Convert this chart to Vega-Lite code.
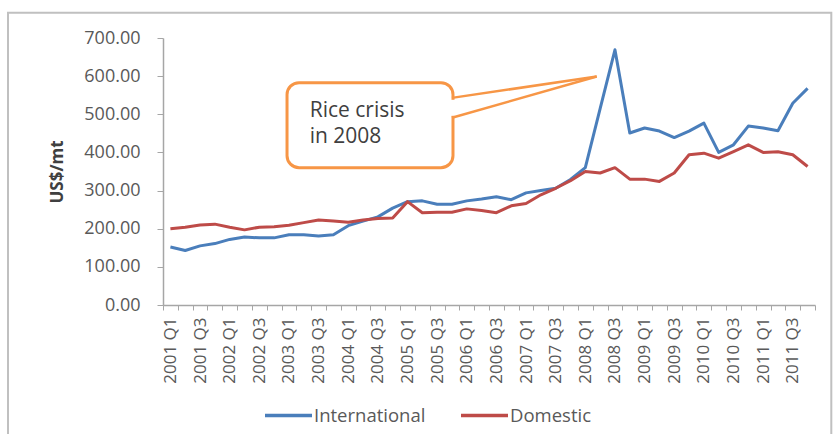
{
  "$schema": "https://vega.github.io/schema/vega-lite/v6.json",
  "width": 652,
  "height": 267,
  "autosize": {"type": "none"},
  "padding": {"left": 163, "top": 38, "right": 19, "bottom": 129},
  "background": "white",
  "config": {
    "view": {"stroke": null},
    "font": "Open Sans",
    "legend": {"padding": 0}
  },
  "datasets": {
    "prices": [
      {"quarter": "2001 Q1", "International": 152, "Domestic": 200},
      {"quarter": "2001 Q2", "International": 143, "Domestic": 204},
      {"quarter": "2001 Q3", "International": 155, "Domestic": 210},
      {"quarter": "2001 Q4", "International": 161, "Domestic": 212},
      {"quarter": "2002 Q1", "International": 172, "Domestic": 204},
      {"quarter": "2002 Q2", "International": 178, "Domestic": 197},
      {"quarter": "2002 Q3", "International": 176, "Domestic": 204},
      {"quarter": "2002 Q4", "International": 176, "Domestic": 205},
      {"quarter": "2003 Q1", "International": 184, "Domestic": 209},
      {"quarter": "2003 Q2", "International": 184, "Domestic": 216},
      {"quarter": "2003 Q3", "International": 181, "Domestic": 223},
      {"quarter": "2003 Q4", "International": 184, "Domestic": 220},
      {"quarter": "2004 Q1", "International": 208, "Domestic": 217},
      {"quarter": "2004 Q2", "International": 220, "Domestic": 223},
      {"quarter": "2004 Q3", "International": 231, "Domestic": 227},
      {"quarter": "2004 Q4", "International": 254, "Domestic": 228},
      {"quarter": "2005 Q1", "International": 271, "Domestic": 271},
      {"quarter": "2005 Q2", "International": 273, "Domestic": 242},
      {"quarter": "2005 Q3", "International": 264, "Domestic": 243},
      {"quarter": "2005 Q4", "International": 264, "Domestic": 243},
      {"quarter": "2006 Q1", "International": 273, "Domestic": 252},
      {"quarter": "2006 Q2", "International": 278, "Domestic": 248},
      {"quarter": "2006 Q3", "International": 284, "Domestic": 242},
      {"quarter": "2006 Q4", "International": 276, "Domestic": 260},
      {"quarter": "2007 Q1", "International": 294, "Domestic": 266},
      {"quarter": "2007 Q2", "International": 300, "Domestic": 289},
      {"quarter": "2007 Q3", "International": 306, "Domestic": 306},
      {"quarter": "2007 Q4", "International": 329, "Domestic": 326},
      {"quarter": "2008 Q1", "International": 360, "Domestic": 350},
      {"quarter": "2008 Q2", "International": 515, "Domestic": 346},
      {"quarter": "2008 Q3", "International": 669, "Domestic": 360},
      {"quarter": "2008 Q4", "International": 451, "Domestic": 330},
      {"quarter": "2009 Q1", "International": 464, "Domestic": 330},
      {"quarter": "2009 Q2", "International": 456, "Domestic": 324},
      {"quarter": "2009 Q3", "International": 439, "Domestic": 346},
      {"quarter": "2009 Q4", "International": 456, "Domestic": 394},
      {"quarter": "2010 Q1", "International": 477, "Domestic": 398},
      {"quarter": "2010 Q2", "International": 400, "Domestic": 385},
      {"quarter": "2010 Q3", "International": 420, "Domestic": 402},
      {"quarter": "2010 Q4", "International": 469, "Domestic": 420},
      {"quarter": "2011 Q1", "International": 464, "Domestic": 400},
      {"quarter": "2011 Q2", "International": 457, "Domestic": 402},
      {"quarter": "2011 Q3", "International": 529, "Domestic": 394},
      {"quarter": "2011 Q4", "International": 568, "Domestic": 363}
    ]
  },
  "layer": [
    {
      "data": {"name": "prices"},
      "transform": [{"fold": ["International", "Domestic"], "as": ["series", "price"]}],
      "mark": {"type": "line", "strokeWidth": 3, "strokeJoin": "round"},
      "encoding": {
        "x": {
          "field": "quarter",
          "type": "ordinal",
          "bandPosition": 0.5,
          "scale": {"type": "band", "paddingInner": 0, "paddingOuter": 0},
          "axis": {
            "title": null,
            "labelAngle": -90,
            "labelExpr": "indexof(datum.label, 'Q1') > 0 || indexof(datum.label, 'Q3') > 0 ? datum.label : ''",
            "labelOverlap": false,
            "tickBand": "extent",
            "tickSize": 5,
            "tickColor": "#A6A6A6",
            "domainColor": "#A6A6A6",
            "domainWidth": 1.5,
            "labelFontSize": 17,
            "labelColor": "#595959",
            "labelPadding": 7,
            "grid": false
          }
        },
        "y": {
          "field": "price",
          "type": "quantitative",
          "scale": {"domain": [0, 700], "nice": false},
          "axis": {
            "title": "US$/mt",
            "values": [0, 100, 200, 300, 400, 500, 600, 700],
            "format": ".2f",
            "grid": false,
            "labelOverlap": false,
            "labelFlush": false,
            "tickSize": 6,
            "tickColor": "#A6A6A6",
            "domainColor": "#A6A6A6",
            "domainWidth": 1.5,
            "labelPadding": 17,
            "labelFontSize": 18,
            "labelColor": "#595959",
            "titleFontSize": 17,
            "titleFontWeight": "bold",
            "titleColor": "#404040",
            "titlePadding": 17
          }
        },
        "color": {
          "field": "series",
          "type": "nominal",
          "sort": ["International", "Domestic"],
          "scale": {"domain": ["International", "Domestic"], "range": ["#4A7EBB", "#BE4B48"]},
          "legend": {
            "title": null,
            "orient": "none",
            "direction": "horizontal",
            "legendX": 100,
            "legendY": 352,
            "symbolType": "stroke",
            "symbolSize": 2209,
            "symbolStrokeWidth": 3.5,
            "labelFontSize": 18.5,
            "labelColor": "#595959",
            "labelOffset": 0,
            "columnPadding": 28
          }
        }
      }
    },
    {
      "data": {"values": [{}]},
      "layer": [
        {
          "mark": {"type": "rect", "fill": null, "stroke": "#C0C0C0", "strokeWidth": 2},
          "encoding": {
            "x": {"datum": -10.46, "type": "quantitative", "scale": {"domain": [0, 44], "nice": false, "zero": false}, "axis": null},
            "x2": {"datum": 45.1},
            "y": {"datum": 766, "type": "quantitative", "axis": null},
            "y2": {"datum": -400}
          }
        },
        {
          "mark": {"type": "rect", "cornerRadius": 12, "fill": "white", "stroke": "#F79646", "strokeWidth": 3},
          "encoding": {
            "x": {"datum": 8.37, "type": "quantitative", "scale": {"domain": [0, 44], "nice": false, "zero": false}, "axis": null},
            "x2": {"datum": 19.57},
            "y": {"datum": 583, "type": "quantitative", "axis": null},
            "y2": {"datum": 360}
          }
        },
        {
          "mark": {"type": "rule", "stroke": "white", "strokeWidth": 5},
          "encoding": {
            "x": {"datum": 19.57, "type": "quantitative", "scale": {"domain": [0, 44], "nice": false, "zero": false}, "axis": null},
            "y": {"datum": 538, "type": "quantitative", "axis": null},
            "y2": {"datum": 496}
          }
        },
        {
          "mark": {"type": "rule", "stroke": "#F79646", "strokeWidth": 2.5},
          "encoding": {
            "x": {"datum": 19.5, "type": "quantitative", "scale": {"domain": [0, 44], "nice": false, "zero": false}, "axis": null},
            "x2": {"datum": 29.27},
            "y": {"datum": 543, "type": "quantitative", "axis": null},
            "y2": {"datum": 599}
          }
        },
        {
          "mark": {"type": "rule", "stroke": "#F79646", "strokeWidth": 2.5},
          "encoding": {
            "x": {"datum": 19.5, "type": "quantitative", "scale": {"domain": [0, 44], "nice": false, "zero": false}, "axis": null},
            "x2": {"datum": 29.27},
            "y": {"datum": 491, "type": "quantitative", "axis": null},
            "y2": {"datum": 599}
          }
        },
        {
          "mark": {"type": "text", "align": "left", "baseline": "middle", "fontSize": 21, "color": "#404040", "text": "Rice crisis"},
          "encoding": {
            "x": {"datum": 9.9, "type": "quantitative", "scale": {"domain": [0, 44], "nice": false, "zero": false}, "axis": null},
            "y": {"datum": 509, "type": "quantitative", "axis": null}
          }
        },
        {
          "mark": {"type": "text", "align": "left", "baseline": "middle", "fontSize": 21, "color": "#404040", "text": "in 2008"},
          "encoding": {
            "x": {"datum": 9.9, "type": "quantitative", "scale": {"domain": [0, 44], "nice": false, "zero": false}, "axis": null},
            "y": {"datum": 440, "type": "quantitative", "axis": null}
          }
        }
      ]
    }
  ],
  "resolve": {"scale": {"x": "independent"}, "axis": {"y": "independent"}}
}
